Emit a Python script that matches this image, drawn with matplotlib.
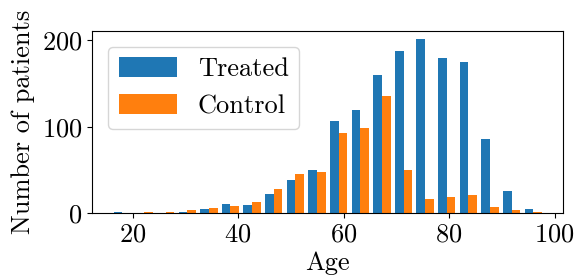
import matplotlib
matplotlib.use("Agg")
import matplotlib.pyplot as plt
import numpy as np

plt.rcParams.update({
    "font.family": "serif",
    "font.serif": ["cmr10"],
    "mathtext.fontset": "cm",
    "axes.formatter.use_mathtext": True,
    "font.size": 19,
})

# Age histogram, 20 bins between 16 and 98 years
BIN_EDGES = np.linspace(16, 98, 21)
treated = [2, 0, 0, 2, 5, 11, 10, 22, 39, 50, 107, 119, 160, 188, 201, 179, 175, 86, 26, 5]
control = [0, 2, 2, 4, 6, 8, 13, 28, 45, 48, 93, 99, 136, 50, 16, 19, 21, 7, 4, 2]
labels = ["Treated", "Control"]

centers = (BIN_EDGES[:-1] + BIN_EDGES[1:]) / 2

fig, ax = plt.subplots(figsize=(5.75, 2.78), dpi=100)
fig.subplots_adjust(left=0.1605, right=0.9797, top=0.8896, bottom=0.2327)

ax.hist([centers, centers], bins=BIN_EDGES, weights=[treated, control],
        label=labels, color=["#1f77b4", "#ff7f0e"])
ax.set_xlabel("Age", labelpad=3)
ax.set_ylabel("Number of patients", labelpad=5)
ax.set_xticks([20, 40, 60, 80, 100])
ax.set_yticks([0, 100, 200])
ax.legend(loc="upper left", handlelength=2.2, handleheight=0.78,
          borderaxespad=0.6)

fig.savefig("out.png", dpi=100)
